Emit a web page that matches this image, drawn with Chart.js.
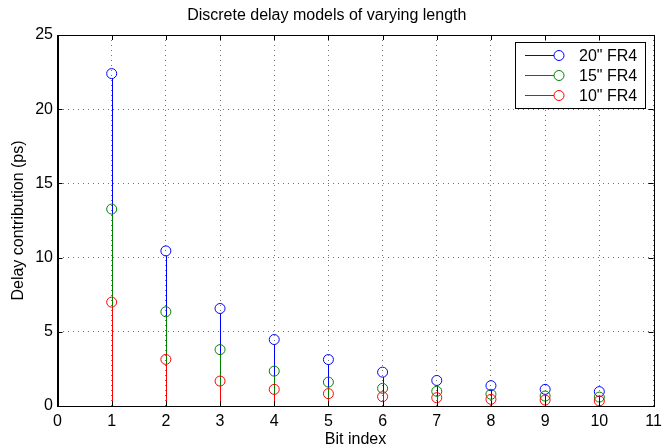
<!DOCTYPE html>
<html>
<head>
<meta charset="utf-8">
<script src="https://cdn.jsdelivr.net/npm/chart.js@4.4.1/dist/chart.umd.min.js"></script>
<style>
  html, body { margin: 0; padding: 0; background: #fff; }
  #wrap { width: 662px; height: 446px; }
</style>
</head>
<body>
<div id="wrap"><canvas id="grafico"></canvas></div>
<script>
// dados
const bitIndex = [1, 2, 3, 4, 5, 6, 7, 8, 9, 10];
const delay20 = [22.4, 10.45, 6.57, 4.48, 3.13, 2.28, 1.72, 1.37, 1.12, 0.97];
const delay15 = [13.27, 6.35, 3.8, 2.35, 1.61, 1.19, 0.99, 0.79, 0.67, 0.6];
const delay10 = [7.0, 3.14, 1.68, 1.12, 0.83, 0.63, 0.56, 0.45, 0.4, 0.34];
const seriesNames = ['20" FR4', '15" FR4', '10" FR4'];
const seriesColors = ['#0000ff', '#008000', '#ff0000'];

const FONT = "'Liberation Sans', Arial, Helvetica, sans-serif";
const R = 5;

function pontos(vals) {
    return bitIndex.map((b, i) => ({ x: b, y: vals[i] }));
}

// hastes (stem) desenhadas pelas escalas do Chart.js
const hastes = {
    id: 'hastes',
    beforeDatasetsDraw(chart) {
        const ctx = chart.ctx, sx = chart.scales.x, sy = chart.scales.y;
        const y0 = sy.getPixelForValue(0);
        chart.data.datasets.forEach(ds => {
            ctx.save();
            ctx.strokeStyle = ds.borderColor;
            ctx.lineWidth = 1;
            ds.data.forEach(p => {
                const px = Math.round(sx.getPixelForValue(p.x)) + 0.5;
                ctx.beginPath();
                ctx.moveTo(px, y0);
                ctx.lineTo(px, sy.getPixelForValue(p.y) + R);
                ctx.stroke();
            });
            ctx.restore();
        });
    },
    afterDraw(chart) {
        const ctx = chart.ctx, a = chart.chartArea, sx = chart.scales.x, sy = chart.scales.y;
        ctx.save();
        ctx.strokeStyle = '#000';
        ctx.lineWidth = 1;
        // caixa dos eixos
        ctx.strokeRect(Math.round(a.left) + 0.5, Math.round(a.top) + 0.5,
            Math.round(a.right - a.left), Math.round(a.bottom - a.top));
        // marcas para dentro
        ctx.beginPath();
        sx.ticks.forEach(t => {
            const px = Math.round(sx.getPixelForValue(t.value)) + 0.5;
            ctx.moveTo(px, a.bottom); ctx.lineTo(px, a.bottom - 5);
            ctx.moveTo(px, a.top); ctx.lineTo(px, a.top + 5);
        });
        sy.ticks.forEach(t => {
            const py = Math.round(sy.getPixelForValue(t.value)) + 0.5;
            ctx.moveTo(a.left, py); ctx.lineTo(a.left + 5, py);
            ctx.moveTo(a.right, py); ctx.lineTo(a.right - 5, py);
        });
        ctx.stroke();

        // legenda estilo MATLAB
        const bx = 515.5, by = 42.5, bw = 130, bh = 66;
        ctx.fillStyle = '#fff';
        ctx.fillRect(bx, by, bw, bh);
        ctx.strokeRect(bx, by, bw, bh);
        ctx.font = '16px ' + FONT;
        ctx.textBaseline = 'middle';
        seriesNames.forEach((nome, i) => {
            const ly = 55.5 + i * 20;
            ctx.strokeStyle = seriesColors[i];
            ctx.beginPath();
            ctx.moveTo(525, ly); ctx.lineTo(554, ly);
            ctx.stroke();
            ctx.beginPath();
            ctx.arc(559, ly, R, 0, Math.PI * 2);
            ctx.stroke();
            ctx.fillStyle = '#000';
            ctx.fillText(nome, 579, ly + 1);
        });
        ctx.restore();
    }
};

const ctx = document.getElementById('grafico').getContext('2d');
new Chart(ctx, {
    type: 'scatter',
    data: {
        datasets: [
            { label: seriesNames[0], data: pontos(delay20), borderColor: seriesColors[0] },
            { label: seriesNames[1], data: pontos(delay15), borderColor: seriesColors[1] },
            { label: seriesNames[2], data: pontos(delay10), borderColor: seriesColors[2] }
        ].map((ds, i) => Object.assign(ds, {
            backgroundColor: 'rgba(0,0,0,0)',
            pointRadius: R,
            pointHoverRadius: R,
            pointBorderWidth: 1,
            pointStyle: 'circle',
            order: 3 - i
        }))
    },
    options: {
        responsive: true,
        maintainAspectRatio: false,
        animation: false,
        events: [],
        layout: { padding: { left: 0, right: 8.5, top: 0, bottom: 0 } },
        plugins: {
            legend: { display: false },
            tooltip: { enabled: false },
            title: {
                display: true,
                text: 'Discrete delay models of varying length',
                color: '#000',
                font: { family: FONT, size: 16, weight: 'normal' },
                padding: { top: 6.4, bottom: 9.4 }
            }
        },
        scales: {
            x: {
                type: 'linear',
                min: 0,
                max: 11,
                ticks: { stepSize: 1, color: '#000', padding: 6, font: { family: FONT, size: 16 } },
                grid: { color: 'rgba(0,0,0,0.55)', drawTicks: false, tickBorderDash: [1, 4] },
                border: { display: true, color: '#000', dash: [1, 4] },
                title: {
                    display: true, text: 'Bit index', color: '#000',
                    font: { family: FONT, size: 16 },
                    padding: { top: 0, bottom: -3.6 }
                },
                afterFit(s) { s.height = 40; s.paddingLeft = 0; s.paddingRight = 0; }
            },
            y: {
                min: 0,
                max: 25,
                ticks: { stepSize: 5, color: '#000', padding: 4.5, font: { family: FONT, size: 16 } },
                grid: { color: 'rgba(0,0,0,0.55)', drawTicks: false },
                border: { display: true, color: '#000', dash: [1, 4] },
                title: {
                    display: true, text: 'Delay contribution (ps)', color: '#000',
                    font: { family: FONT, size: 16 },
                    padding: { top: 9, bottom: 0 }
                },
                afterFit(s) { s.width = 57.5; s.paddingTop = 0; s.paddingBottom = 0; }
            }
        }
    },
    plugins: [hastes]
});
</script>
</body>
</html>
